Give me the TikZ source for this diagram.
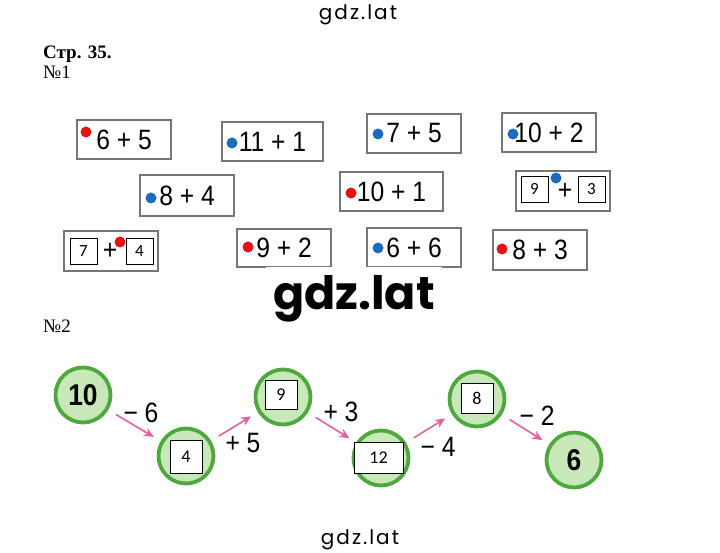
\documentclass[tikz,border=0pt]{standalone}
\usepackage{fontspec}
\setmainfont{Liberation Serif}
\setsansfont{Liberation Sans}
\newfontfamily\logofont{Poppins}
\newfontfamily\slotfont{Carlito}
\newfontfamily\cardfont[FakeStretch=0.88]{Liberation Sans}
\usepackage{xcolor}
\usetikzlibrary{arrows.meta}
\definecolor{cardgray}{RGB}{118,118,118}
\definecolor{dotred}{RGB}{228,18,22}
\definecolor{dotblue}{RGB}{28,108,190}
\definecolor{ringgreen}{RGB}{78,168,62}
\definecolor{ringfill}{RGB}{200,232,186}
\definecolor{hoppink}{RGB}{226,96,160}

\begin{document}
\begin{tikzpicture}[x=1pt,y=-1pt,
  card/.style={draw=cardgray,line width=2.2pt,fill=white,minimum width=94,minimum height=39,inner sep=0pt,font=\cardfont\fontsize{28}{28}\selectfont},
  slot/.style={draw=black,line width=0.6pt,fill=white,inner sep=0pt,minimum width=27,minimum height=26,font=\slotfont\fontsize{17}{17}\selectfont},
  answer/.style={slot,minimum width=32,minimum height=30,font=\slotfont\fontsize{18}{18}\selectfont},
  reddot/.style={circle,fill=dotred,inner sep=0pt,minimum size=11},
  bluedot/.style={circle,fill=dotblue,inner sep=0pt,minimum size=11},
  ring/.style={circle,draw=ringgreen,line width=3.8pt,fill=ringfill,minimum size=55,inner sep=0pt,font=\cardfont\bfseries\fontsize{30}{30}\selectfont},
  opnote/.style={inner sep=0pt,font=\cardfont\fontsize{28}{28}\selectfont},
  hop/.style={draw=hoppink,line width=1.6pt,-{Stealth[length=10pt,width=9pt]},shorten <=9pt,shorten >=8pt},
  stamp/.style={inner sep=0pt,font=\logofont\addfontfeature{LetterSpace=10}\fontsize{20}{20}\selectfont}]
  \useasboundingbox (0,0) rectangle (720,553);
  \node[stamp] (stamptop) at (358,15) {gdz.lat};
  \node[stamp] (stampbot) at (360,540) {gdz.lat};
  \node[anchor=base west,font=\bfseries\fontsize{19}{19}\selectfont,inner sep=0pt] (page) at (43,59) {Стр. 35.};
  \node[anchor=base west,font=\fontsize{19}{19}\selectfont,inner sep=0pt] (task1) at (43,79) {№1};
  \node[anchor=base west,font=\fontsize{19}{19}\selectfont,inner sep=0pt] (task2) at (43,332) {№2};
  \node[card] (c65) at (124,139.5) {6 + 5};
  \node[card,minimum width=101] (c111) at (272.5,141.5) {11 + 1};
  \node[card] (c75) at (414,133.5) {7 + 5};
  \node[card] (c102) at (549,132.5) {10 + 2};
  \node[card,minimum height=41] (c84) at (187,195.5) {8 + 4};
  \node[card,minimum width=103] (c101) at (391.5,191.5) {10 + 1};
  \node[card,minimum height=40] (c93) at (563,191) {};
  \node[card,minimum height=40] (c74) at (111,251) {};
  \node[card,minimum height=38] (c92) at (284,248) {9 + 2};
  \node[card] (c66) at (414,247.5) {6 + 6};
  \node[card,minimum height=40] (c83) at (540,250) {8 + 3};
  \node[slot] (s9) at (534.5,189) {9};
  \node[slot] (s3) at (591.5,189) {3};
  \node[opnote] (p93) at (565,191) {+};
  \node[slot] (s7) at (83.5,251) {7};
  \node[slot] (s4) at (139.5,251) {4};
  \node[opnote] (p74) at (110,251) {+};
  \node[reddot] (d65) at (86,132) {};
  \node[bluedot] (d111) at (232,143) {};
  \node[bluedot] (d75) at (378,134) {};
  \node[bluedot] (d102) at (513,134) {};
  \node[bluedot] (d84) at (151,198) {};
  \node[reddot] (d101) at (351,193) {};
  \node[bluedot] (d93) at (556,178) {};
  \node[reddot] (d74) at (120,242) {};
  \node[reddot] (d92) at (248,247) {};
  \node[bluedot] (d66) at (378,248) {};
  \node[reddot] (d83) at (502,249) {};
  \node[fill=white,inner sep=0pt,minimum width=176,minimum height=64,font=\logofont\bfseries\fontsize{46}{46}\selectfont] (stampmid) at (354,299) {gdz.lat};
  \node[ring] (r10) at (83,395) {10};
  \node[ring] (r4) at (186,456) {};
  \node[ring] (r9) at (283,397) {};
  \node[ring] (r12) at (381,458) {};
  \node[ring] (r8) at (477,399) {};
  \node[ring] (r6) at (574,460) {6};
  \node[answer,minimum height=33] (a4) at (186,456.5) {4};
  \node[answer,minimum height=29] (a9) at (281,394.5) {9};
  \node[answer,minimum width=49,minimum height=31] (a12) at (378.5,457.5) {12};
  \node[answer] (a8) at (477,398) {8};
  \draw[hop] (r10) -- (r4);
  \draw[hop] (r4) -- (r9);
  \draw[hop] (r9) -- (r12);
  \draw[hop] (r12) -- (r8);
  \draw[hop] (r8) -- (r6);
  \node[opnote] (o6) at (141,413) {− 6};
  \node[opnote] (o5) at (243,443) {+ 5};
  \node[opnote] (o3) at (341,412) {+ 3};
  \node[opnote] (o4) at (438,447) {− 4};
  \node[opnote] (o2) at (537,416) {− 2};
\end{tikzpicture}
\end{document}
